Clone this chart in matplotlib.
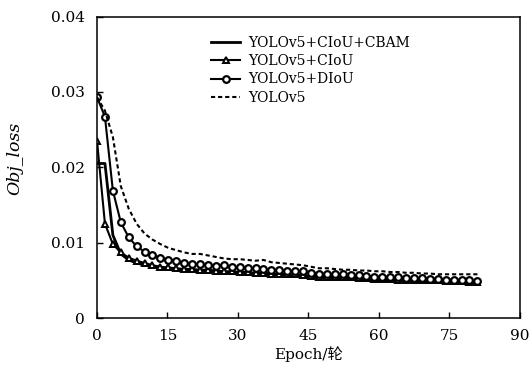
import numpy as np
import matplotlib
matplotlib.use("Agg")
import matplotlib.pyplot as plt
from matplotlib.ticker import FuncFormatter

# one point every ~1.69 epochs, 49 points from epoch 0 to 81
epoch_step = 81 / 48

cbam = [0.0205, 0.0205, 0.0110, 0.0085, 0.0077, 0.0073, 0.0070, 0.0068, 0.0066, 0.0065,
        0.0064, 0.0063, 0.0063, 0.0062, 0.0062, 0.0061, 0.0060, 0.0060, 0.0059, 0.0059,
        0.0058, 0.0058, 0.0057, 0.0057, 0.0056, 0.0056, 0.0055, 0.0054, 0.0053, 0.0053,
        0.0052, 0.0052, 0.0052, 0.0051, 0.0051, 0.0050, 0.0050, 0.0050, 0.0049, 0.0049,
        0.0049, 0.0048, 0.0048, 0.0048, 0.0047, 0.0047, 0.0047, 0.0046, 0.0046]
ciou = [0.0235, 0.0125, 0.0098, 0.0087, 0.0080, 0.0076, 0.0073, 0.0070, 0.0068, 0.0067,
        0.0066, 0.0065, 0.0065, 0.0064, 0.0064, 0.0063, 0.0062, 0.0062, 0.0061, 0.0061,
        0.0060, 0.0060, 0.0059, 0.0059, 0.0058, 0.0058, 0.0057, 0.0056, 0.0055, 0.0055,
        0.0054, 0.0054, 0.0054, 0.0053, 0.0053, 0.0052, 0.0052, 0.0052, 0.0051, 0.0051,
        0.0051, 0.0050, 0.0050, 0.0050, 0.0049, 0.0049, 0.0049, 0.0048, 0.0048]
diou = [0.0293, 0.0267, 0.0169, 0.0127, 0.0107, 0.0095, 0.0088, 0.0083, 0.0080, 0.0077,
        0.0075, 0.0073, 0.0072, 0.0071, 0.0070, 0.0069, 0.0070, 0.0068, 0.0067, 0.0066,
        0.0066, 0.0065, 0.0064, 0.0064, 0.0063, 0.0062, 0.0062, 0.0060, 0.0059, 0.0059,
        0.0058, 0.0058, 0.0057, 0.0057, 0.0056, 0.0055, 0.0055, 0.0054, 0.0054, 0.0053,
        0.0053, 0.0053, 0.0052, 0.0052, 0.0051, 0.0051, 0.0050, 0.0050, 0.0049]
yolo = [0.0293, 0.0275, 0.0240, 0.0175, 0.0145, 0.0125, 0.0112, 0.0104, 0.0098, 0.0093,
        0.0090, 0.0087, 0.0085, 0.0085, 0.0083, 0.0081, 0.0079, 0.0078, 0.0078, 0.0077,
        0.0076, 0.0077, 0.0074, 0.0073, 0.0072, 0.0071, 0.0070, 0.0068, 0.0066, 0.0066,
        0.0065, 0.0064, 0.0064, 0.0063, 0.0063, 0.0062, 0.0062, 0.0061, 0.0061, 0.0060,
        0.0060, 0.0059, 0.0059, 0.0058, 0.0058, 0.0058, 0.0058, 0.0058, 0.0058]

labels = ["YOLOv5+CIoU+CBAM", "YOLOv5+CIoU", "YOLOv5+DIoU", "YOLOv5"]
x_ticks = [0, 15, 30, 45, 60, 75, 90]
y_ticks = [0, 0.01, 0.02, 0.03, 0.04]

epochs = np.arange(len(ciou)) * epoch_step

serif = "DejaVu Serif"
fs = 11

fig = plt.figure(figsize=(5.29, 3.75), dpi=100)
ax = fig.add_axes([0.1834, 0.152, 0.799, 0.804])

ax.plot(epochs, cbam, color="black", lw=2.0, label=labels[0])
ax.plot(epochs, ciou, color="black", lw=1.5, marker="^", ms=4.5,
        mfc="white", mec="black", mew=1.4, label=labels[1])
ax.plot(epochs, diou, color="black", lw=1.5, marker="o", ms=4.8,
        mfc="white", mec="black", mew=1.6, label=labels[2])
ax.plot(epochs, yolo, color="black", lw=1.5, ls=(0, (2.0, 1.4)), label=labels[3])

ax.set_xlim(0, 90)
ax.set_ylim(0, 0.04)
ax.set_xticks(x_ticks)
ax.set_yticks(y_ticks)
ax.yaxis.set_major_formatter(FuncFormatter(lambda v, p: "0" if v == 0 else f"{v:.2f}"))
ax.tick_params(direction="in", length=4, width=1, top=False, right=False)
ax.tick_params(axis="x", pad=8)
ax.tick_params(axis="y", pad=9)
for lab in ax.get_xticklabels() + ax.get_yticklabels():
    lab.set_fontfamily(serif)
    lab.set_fontsize(fs)
for s in ax.spines.values():
    s.set_linewidth(1.1)

ax.set_xlabel("Epoch/轮", family=[serif, "Noto Sans CJK SC"], fontsize=fs, labelpad=2)
ax.set_ylabel("Obj_loss", family=serif, style="italic", fontsize=12.5)
ax.yaxis.set_label_coords(-0.175, 0.53)

ax.legend(loc="upper left", bbox_to_anchor=(0.27, 0.935), frameon=False,
          prop={"family": serif, "size": 10}, handlelength=2.1, handletextpad=0.6,
          labelspacing=0.3, borderpad=0, borderaxespad=0)

fig.savefig("out.png", dpi=100)
